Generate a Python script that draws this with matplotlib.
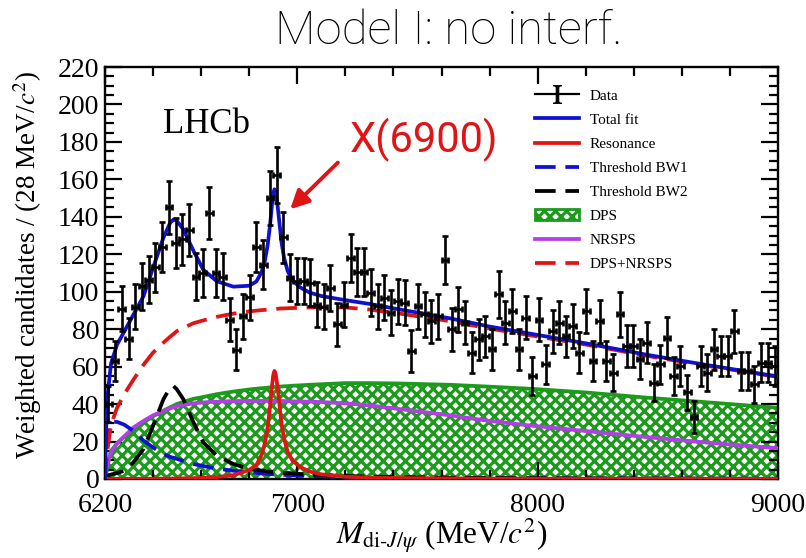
import numpy as np
import matplotlib
matplotlib.use("Agg")
import matplotlib.pyplot as plt
from matplotlib.patches import Patch
from matplotlib.lines import Line2D
from matplotlib.ticker import MultipleLocator, FixedLocator

plt.rcParams['font.family'] = ['Liberation Serif', 'DejaVu Serif']
plt.rcParams['mathtext.fontset'] = 'stix'
plt.rcParams['hatch.linewidth'] = 2.3

# data: 100 bins of 28 MeV from 6200 to 9000
bin_width = 28
mass = 6200 + bin_width / 2 + bin_width * np.arange(100)
counts = [40, 63, 91, 75, 92, 103, 106.5, 113, 124, 145,
          126, 128, 133, 108, 110, 142, 110, 108, 85, 69,
          87, 97, 124, 114.5, 150, 162.5, 129, 107.5, 105.7, 105.7,
          104.8, 93, 92, 102, 82.6, 93, 118, 110.5, 110.5, 99.5,
          92.3, 96.8, 88.8, 95, 94, 68.4, 92.3, 88, 84.3, 87,
          117, 80, 90.6, 83.5, 67.5, 74.6, 76.3, 69.3, 98.6, 83.5,
          89.7, 69.3, 86, 55, 85, 61.3, 79, 83.5, 76.3, 81.7,
          67.5, 89.7, 63, 84.3, 63, 56.8, 88, 71, 71, 64,
          72.8, 51.5, 61.3, 75.5, 55, 60.4, 46.2, 33, 60.4, 56.8,
          69.3, 65.7, 65.7, 79, 57.7, 57.7, 50.6, 62.2, 62.2, 60.4]
errors = [9.5, 10.5, 12, 11, 12, 12.5, 12.5, 13, 13.5, 14,
          13.5, 13.5, 14, 12.5, 13, 14, 13, 12.5, 11.5, 11,
          12, 12, 13.5, 13, 14.5, 15, 13.5, 12.5, 12.5, 12.5,
          12.5, 12, 12, 12.5, 11.5, 12, 13, 13, 13, 12.5,
          12, 12, 12, 12, 12, 11, 12, 12, 11.5, 12,
          13, 11.5, 12, 11.5, 11, 11, 11, 11, 12.5, 11.5,
          12, 11, 11.5, 10, 11.5, 10.5, 11.5, 11.5, 11, 11.5,
          11, 12, 10.5, 11.5, 10.5, 10, 12, 11, 11, 10.5,
          11, 10, 10.5, 11, 10, 10.5, 9.5, 8.5, 10.5, 10,
          11, 10.5, 10.5, 11.5, 10, 10, 10, 10.5, 10.5, 10.5]

# fit components sampled on a common mass grid
grid = [6200, 6205, 6212, 6225, 6250, 6280, 6318, 6360, 6400, 6443,
        6471, 6485, 6498, 6526, 6568, 6609, 6665, 6734, 6800, 6830,
        6852, 6865, 6877, 6887, 6895, 6900, 6905, 6910, 6918, 6926,
        6935, 6945, 6960, 6980, 7011, 7050, 7100, 7200, 7300, 7427,
        7635, 7800, 7980, 8200, 8467, 8700, 8953, 9000]
dps = [0, 3.5, 8, 15, 19, 22.5, 25.5, 30, 33.5, 36.5,
       38.3, 39.1, 40, 41.2, 42.8, 43.8, 45.3, 46.7, 47.8, 48.2,
       48.5, 48.6, 48.8, 48.9, 49, 49, 49.1, 49.1, 49.2, 49.3,
       49.4, 49.5, 49.6, 49.8, 50, 50.3, 50.6, 51.2, 51.2, 51,
       50.3, 49.3, 48.1, 46.2, 43.3, 41, 38.5, 38]
nrsps = [0, 5, 9.5, 14, 19, 22.8, 27.5, 31, 34, 36.3,
         37.7, 38.3, 38.9, 39.5, 40.4, 40.9, 41.3, 41.6, 41.7, 41.7,
         41.7, 41.7, 41.7, 41.7, 41.7, 41.7, 41.7, 41.7, 41.7, 41.7,
         41.7, 41.6, 41.6, 41.5, 41.4, 41.3, 41.1, 40.4, 39.3, 37.3,
         34, 31, 28.4, 25.6, 22.2, 19.5, 16.9, 16.5]
bw1 = [0, 18, 27, 30.3, 30.5, 29, 25.7, 20.5, 16.8, 13.3,
       11.8, 11.3, 10.8, 9.6, 8, 6.9, 5.6, 4.4, 3.5, 3.2,
       3, 2.9, 2.7, 2.6, 2.6, 2.5, 2.5, 2.5, 2.4, 2.3,
       2.3, 2.2, 2.1, 2, 1.8, 1.6, 1.4, 1.1, 0.9, 0.7,
       0.5, 0.4, 0.3, 0.25, 0.2, 0.15, 0.1, 0.1]
bw2 = [0, 1, 1.8, 2.4, 3.2, 4.4, 8.9, 16, 28.4, 42.6,
       48.8, 49.6, 48, 42.6, 30.2, 19.5, 12.4, 8, 5.4, 4.9,
       4.5, 4.3, 4, 3.9, 3.8, 3.8, 3.7, 3.7, 3.6, 3.5,
       3.4, 3.3, 3.2, 3, 2.7, 2.4, 2.1, 1.6, 1.3, 1,
       0.7, 0.5, 0.4, 0.3, 0.25, 0.2, 0.15, 0.15]
resonance = [0, 0, 0, 0, 0.05, 0.05, 0.1, 0.1, 0.15, 0.2,
             0.2, 0.25, 0.3, 0.35, 0.45, 0.6, 1, 2, 4.8, 7.5,
             13, 19, 28, 39, 50, 55.5, 57.7, 56, 49, 39.5,
             29, 21.5, 14.5, 9.8, 6.5, 4, 2.5, 1.2, 0.8, 0.5,
             0.3, 0.2, 0.15, 0.1, 0.1, 0.1, 0.05, 0.05]

grid = np.array(grid)
dps_nrsps = np.array(dps) + np.array(nrsps)
total = dps_nrsps + np.array(bw1) + np.array(bw2) + np.array(resonance)

green = '#1c9a1c'
blue = '#1010d0'
red = '#e01414'
purple = '#b23ee6'
lw = 2.7
dash = (5.5, 2.6)

fig = plt.figure(figsize=(8.06, 5.58), dpi=100)
ax = fig.add_axes([0.1303, 0.1416, 0.835, 0.7383])

ax.fill_between(grid, 0, dps, facecolor='white', edgecolor=green,
                hatch='xxx', linewidth=0, zorder=1)
ax.plot(grid, dps, color=green, lw=lw, zorder=2)
ax.plot(grid, nrsps, color=purple, lw=lw, zorder=3)
ax.plot(grid, bw1, color=blue, lw=lw, dashes=dash, zorder=3)
ax.plot(grid, bw2, color='black', lw=lw, dashes=dash, zorder=3)
ax.plot(grid, resonance, color=red, lw=lw, zorder=4)
ax.plot(grid, dps_nrsps, color=red, lw=lw, dashes=dash, zorder=4)
ax.plot(grid, total, color=blue, lw=lw, zorder=5)
ax.errorbar(mass, counts, yerr=errors, xerr=bin_width / 2, fmt='none',
            ecolor='black', elinewidth=1.9, capsize=2.5, capthick=1.9,
            zorder=6)

ax.set_xlim(6200, 9000)
ax.set_ylim(0, 220)
ax.xaxis.set_major_locator(FixedLocator([6200, 7000, 8000, 9000]))
ax.xaxis.set_minor_locator(MultipleLocator(200))
ax.yaxis.set_major_locator(MultipleLocator(20))
ax.yaxis.set_minor_locator(MultipleLocator(5))
ax.tick_params(which='both', direction='in', top=True, right=True,
               width=1.6, labelsize=20)
ax.tick_params(which='major', length=12)
ax.tick_params(which='minor', length=6.5)
ax.tick_params(axis='y', pad=4)
ax.tick_params(axis='x', pad=10)
for s in ax.spines.values():
    s.set_linewidth(1.7)

ax.set_xlabel(r'$M_{\mathrm{di}\text{-}J/\psi}$ (MeV/$c^2$)', fontsize=22.5,
              labelpad=-1)
ax.set_ylabel(r'Weighted candidates / (28 MeV/$c^2$)', fontsize=19.5)
ax.yaxis.set_label_coords(-0.09, 0.52)

ax.text(0.086, 0.86, 'LHCb', transform=ax.transAxes, fontsize=25,
        va='center', ha='left')

ax.annotate('', xy=(6962, 143), xytext=(7177, 170),
            arrowprops=dict(arrowstyle='-|>', color=red, lw=2.8,
                            mutation_scale=28))
ax.text(7219, 181, 'X(6900)', color=red, fontsize=30, ha='left',
        va='center', family=['Roboto', 'DejaVu Sans'])

fig.text(0.557, 0.944, 'Model I: no interf.', fontsize=34, ha='center',
         va='center', family=['Roboto', 'DejaVu Sans'], fontweight='light',
         color='black')

handles = [Line2D([], [], color='black', lw=1.6, marker=r'$\mathrm{I}$',
                  markersize=13, markeredgewidth=0.6),
           Line2D([], [], color=blue, lw=lw),
           Line2D([], [], color=red, lw=lw),
           Line2D([], [], color=blue, lw=lw, dashes=dash),
           Line2D([], [], color='black', lw=lw, dashes=dash),
           Patch(facecolor='white', edgecolor=green, hatch='xxx', lw=2),
           Line2D([], [], color=purple, lw=lw),
           Line2D([], [], color=red, lw=lw, dashes=dash)]
labels = ['Data', 'Total fit', 'Resonance', 'Threshold BW1', 'Threshold BW2',
          'DPS', 'NRSPS', 'DPS+NRSPS']
ax.legend(handles, labels, loc='upper left',
          bbox_to_anchor=(535 / 806, 1 - 89 / 558),
          bbox_transform=fig.transFigure, frameon=False, fontsize=11,
          handlelength=2.9, handletextpad=0.7, labelspacing=0.68,
          borderpad=0, borderaxespad=0)

fig.savefig('out.png', dpi=100)
